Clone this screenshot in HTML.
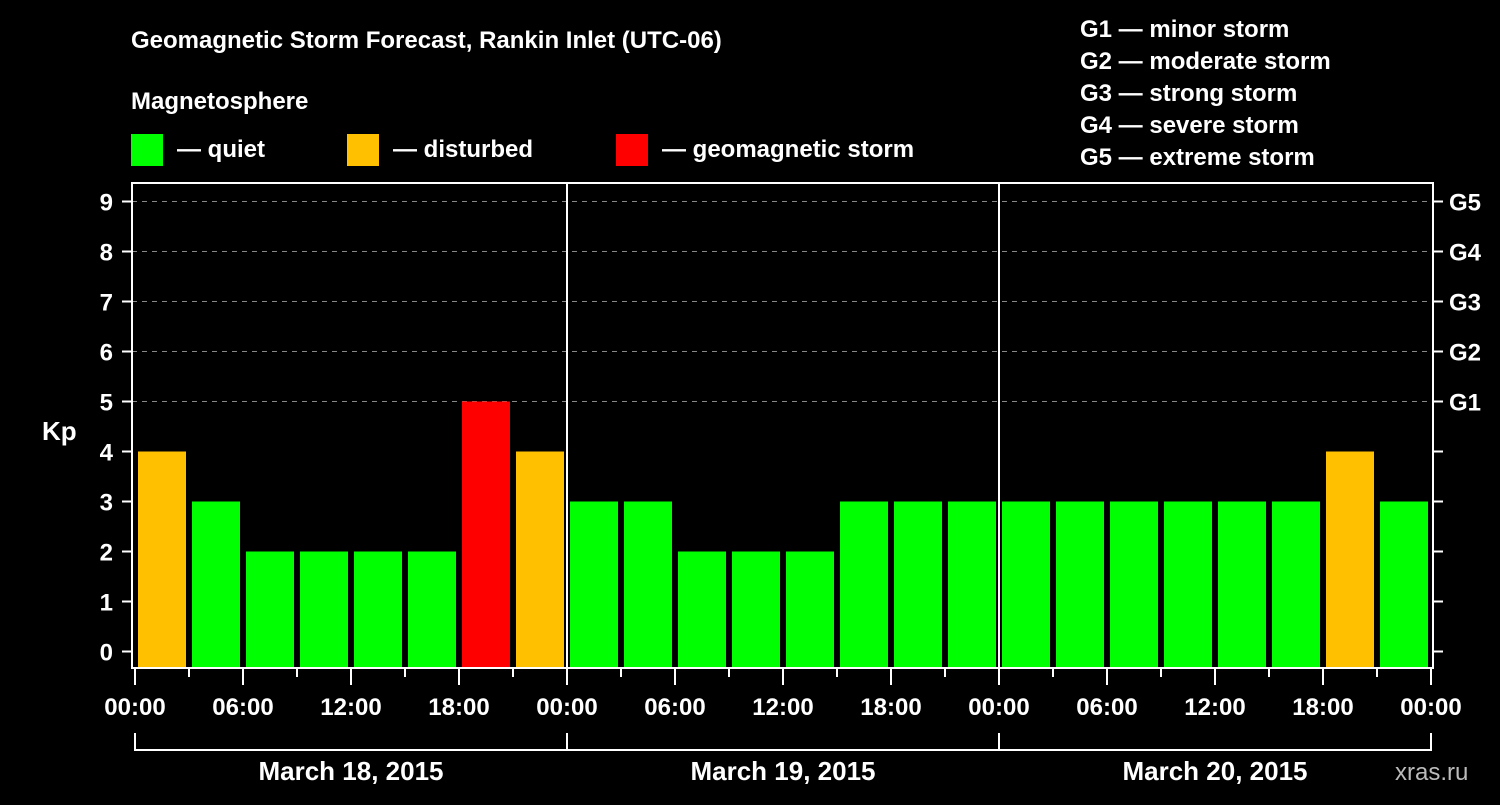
<!DOCTYPE html>
<html><head><meta charset="utf-8"><style>
body{margin:0;background:#000;}
svg text{font-family:"Liberation Sans",Arial,sans-serif;font-weight:bold;fill:#fff;}
</style></head><body>
<svg id="c" width="1500" height="800" viewBox="0 0 1500 800" xmlns="http://www.w3.org/2000/svg">
<rect width="1500" height="800" fill="#000"/>
<text x="131" y="48" font-size="24">Geomagnetic Storm Forecast, Rankin Inlet (UTC-06)</text>
<text x="131" y="109" font-size="24">Magnetosphere</text>
<g><rect x="131" y="134" width="32" height="32" fill="#00ff00"/><text x="177" y="157" font-size="24">— quiet</text></g>
<g><rect x="347" y="134" width="32" height="32" fill="#ffc000"/><text x="393" y="157" font-size="24">— disturbed</text></g>
<g><rect x="616" y="134" width="32" height="32" fill="#ff0000"/><text x="662" y="157" font-size="24">— geomagnetic storm</text></g>
<g font-size="24">
<text x="1080" y="37">G1 — minor storm</text>
<text x="1080" y="69">G2 — moderate storm</text>
<text x="1080" y="101">G3 — strong storm</text>
<text x="1080" y="133">G4 — severe storm</text>
<text x="1080" y="165">G5 — extreme storm</text>
</g>
<text x="42" y="440" font-size="26">Kp</text>
<text x="1395" y="780" font-size="24" fill="#bbb" style="fill:#bbb;font-weight:normal">xras.ru</text>
<g id="grid"></g><g id="bars"></g><g id="axes"></g>
</svg>
<script>
const kpValues=[4,3,2,2,2,2,5,4, 3,3,2,2,2,3,3,3, 3,3,3,3,3,3,4,3];
const dayLabels=["March 18, 2015","March 19, 2015","March 20, 2015"];
const hourLabels=["00:00","06:00","12:00","18:00"];
const kpTicks=[0,1,2,3,4,5,6,7,8,9];
const gLabels=["G1","G2","G3","G4","G5"];
const NS="http://www.w3.org/2000/svg";
const X0=135,SLOT=54,L=132,R=1433,T=183,B=668;
const y=v=>651.5-50*v, x=i=>X0+SLOT*i;
function mk(tag,a,p){const e=document.createElementNS(NS,tag);for(const k in a)e.setAttribute(k,a[k]);p.appendChild(e);return e;}
const grid=document.getElementById('grid'),bars=document.getElementById('bars'),axes=document.getElementById('axes');
[5,6,7,8,9].forEach(v=>{const l=mk('line',{x1:L,x2:R,y1:y(v),y2:y(v),stroke:'#888','stroke-dasharray':'5,5','stroke-width':1},grid);

});
kpValues.forEach((v,i)=>{const c=v>=5?'#ff0000':v>=4?'#ffc000':'#00ff00';
const r=mk('rect',{x:x(i)+3,y:y(v),width:48,height:B-y(v),fill:c},bars);

});
const f=mk('rect',{x:L,y:T,width:R-L,height:B-T,fill:'none',stroke:'#fff','stroke-width':2},axes);


for(let d=1;d<dayLabels.length;d++){const l=mk('line',{x1:x(d*8),x2:x(d*8),y1:T,y2:B,stroke:'#fff','stroke-width':2},axes);

}
kpTicks.forEach(v=>{mk('line',{x1:122,x2:L,y1:y(v),y2:y(v),stroke:'#fff','stroke-width':2},axes);
mk('line',{x1:R,x2:R+10,y1:y(v),y2:y(v),stroke:'#fff','stroke-width':2},axes);
const t=mk('text',{x:113,y:y(v)+9,'font-size':24,'text-anchor':'end'},axes);t.textContent=v;

});
gLabels.forEach((g,i)=>{const t=mk('text',{x:1449,y:y(5+i)+9,'font-size':24},axes);t.textContent=g;

});
for(let i=0;i<=kpValues.length;i++){const major=i%2==0;
mk('line',{x1:x(i),x2:x(i),y1:B,y2:major?685:677,stroke:'#fff','stroke-width':2},axes);
if(major){const t=mk('text',{x:x(i),y:715,'font-size':24,'text-anchor':'middle'},axes);t.textContent=hourLabels[(i/2)%4];

}}
dayLabels.forEach((d,k)=>{const a=x(k*8),b=x(k*8+8);
mk('path',{d:`M${a},733V750H${b}`+(k==dayLabels.length-1?`V733`:''),stroke:'#fff','stroke-width':2,fill:'none'},axes);
if(k>0)mk('line',{x1:a,x2:a,y1:733,y2:750,stroke:'#fff','stroke-width':2},axes);
const t=mk('text',{x:(a+b)/2,y:780,'font-size':26,'text-anchor':'middle'},axes);t.textContent=d;

});
</script>
</body></html>
